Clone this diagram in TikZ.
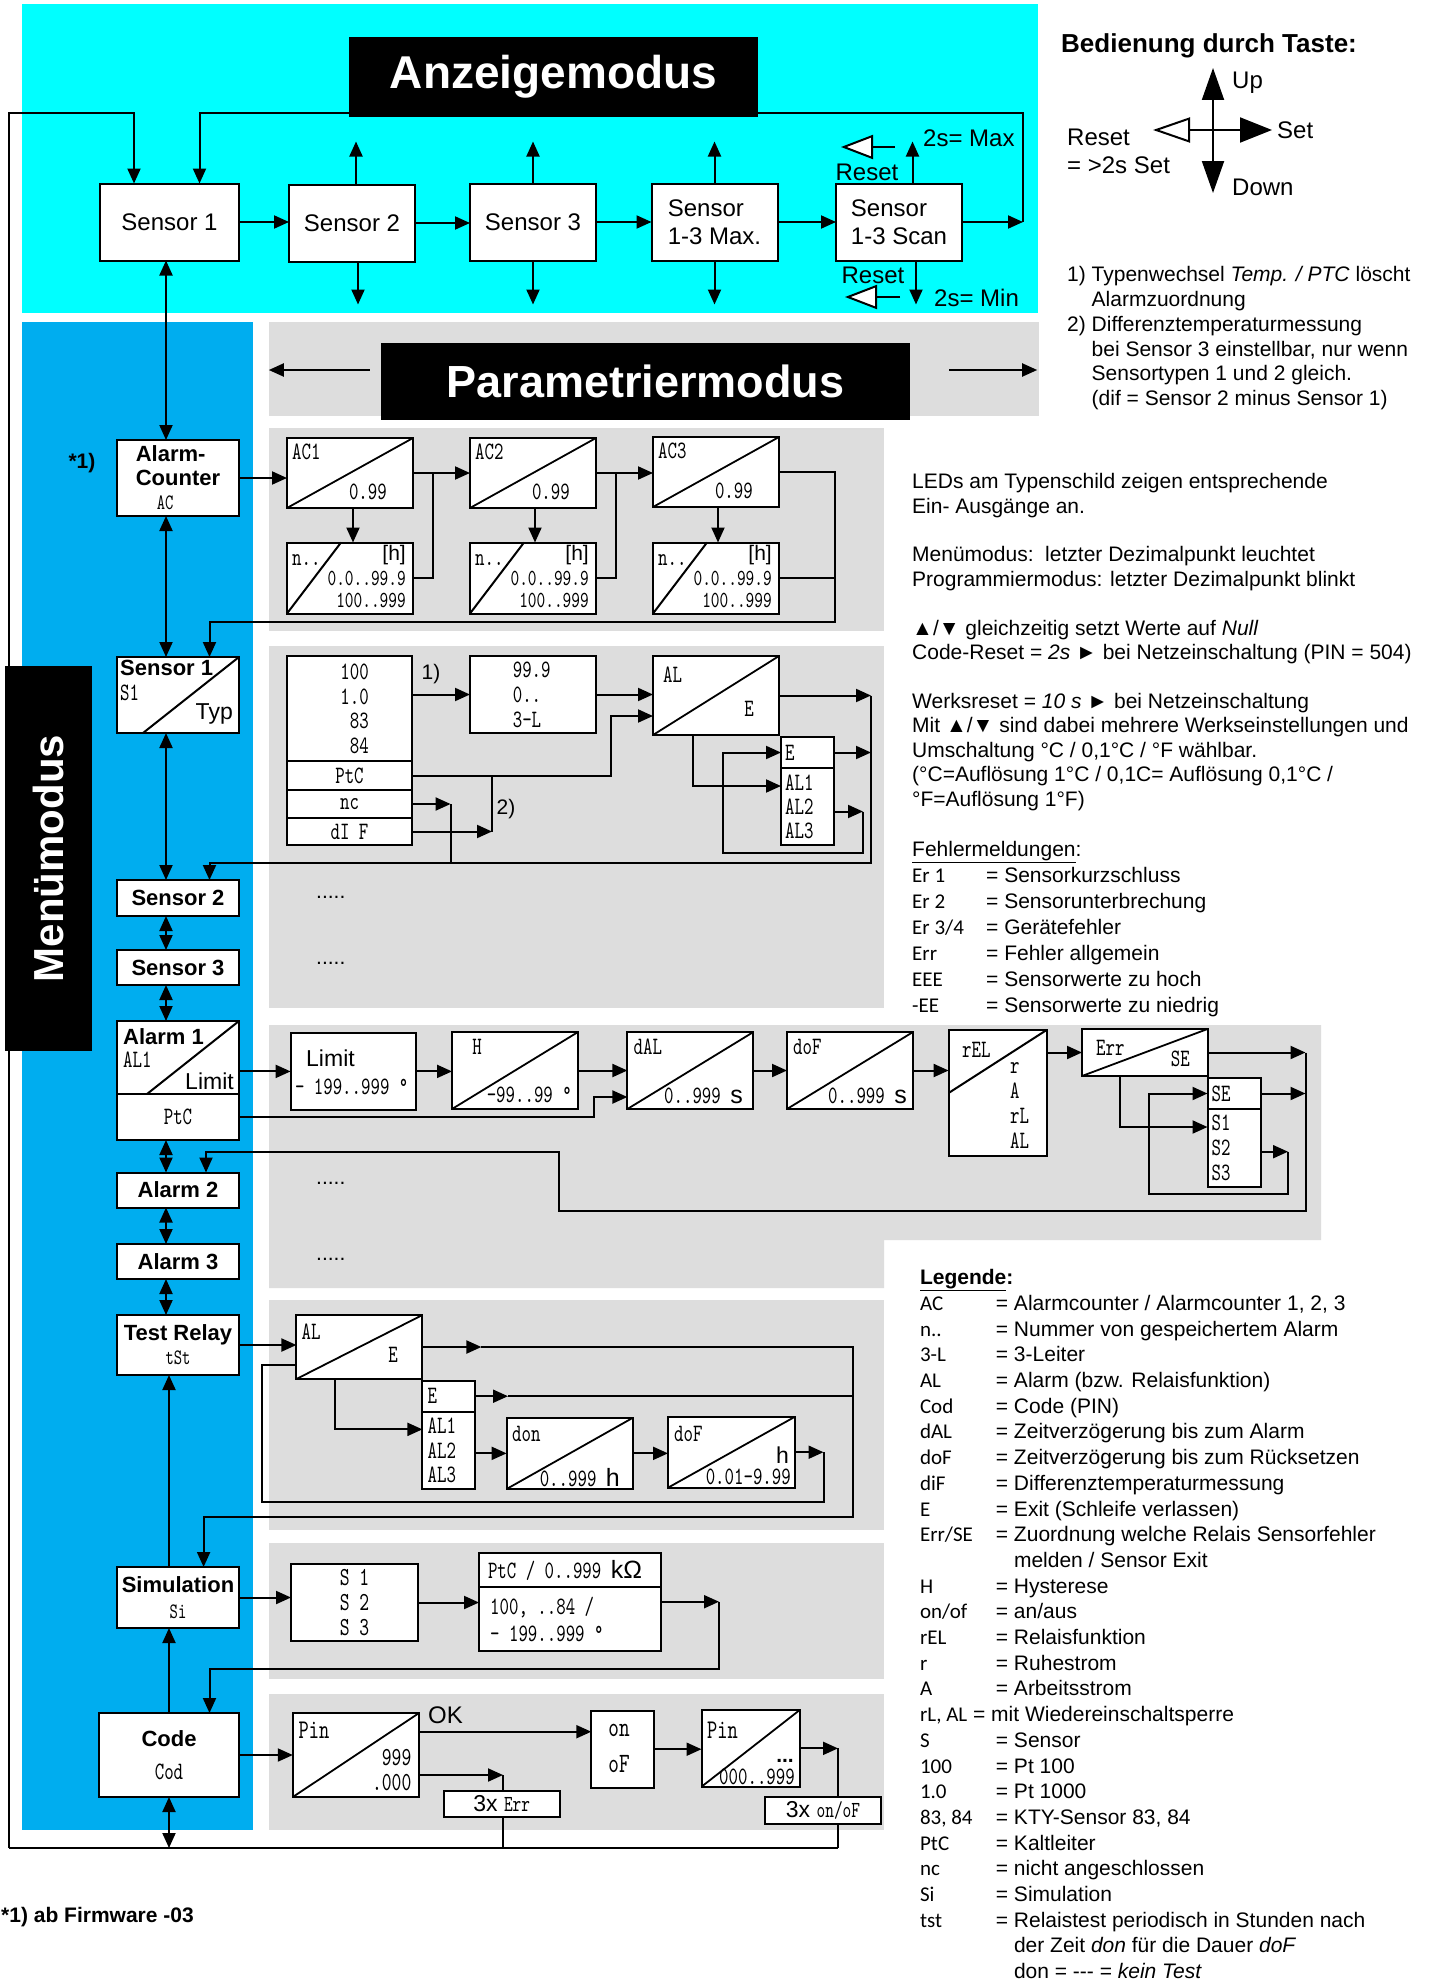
\documentclass[tikz,border=0pt]{standalone}
\usepackage{fontspec}
\setmainfont{Liberation Sans}
\newfontfamily\segfont[FakeStretch=0.72]{lmmono10-regular.otf}
\newfontfamily\codefont{Carlito}
\usetikzlibrary{arrows.meta,positioning,calc}
\definecolor{anzcyan}{RGB}{0,255,255}
\definecolor{menublue}{RGB}{0,173,239}
\definecolor{panelgray}{RGB}{221,221,221}

\begin{document}
\begin{tikzpicture}[x=1pt,y=-1pt,>={Triangle[length=15pt,width=13pt]}]
\tikzset{
  ln/.style={line width=2pt},
  arr/.style={ln,->},
  darr/.style={ln,<->},
  box/.style={draw,line width=2pt,fill=white,inner sep=0pt,outer sep=0pt},
  dg/.style={path picture={\draw[line width=1.8pt] (path picture bounding box.south west) -- (path picture bounding box.north east);}},
  txt/.style={inner sep=0pt,font=\fontsize{21}{25}\selectfont},
  atxt/.style={inner sep=0pt,font=\fontsize{24}{28}\selectfont},
  ltxt/.style={inner sep=0pt,font=\fontsize{23}{23}\selectfont},
  seg/.style={inner sep=0pt,font=\segfont\fontsize{25}{25}\selectfont},
  segl/.style={inner sep=0pt,font=\segfont\fontsize{27}{25}\selectfont},
  mtxt/.style={inner sep=0pt,font=\bfseries\fontsize{22}{24}\selectfont},
}
\tikzstyle{abox}=[box,minimum width=126pt,minimum height=77pt,font=\fontsize{24}{28}\selectfont]
\tikzstyle{mbox}=[box,minimum width=122pt,font=\bfseries\fontsize{22}{24}\selectfont]
\tikzstyle{dbox}=[box,dg,minimum width=126pt,minimum height=70pt]
\tikzstyle{nbox}=[box,minimum width=126pt,minimum height=71pt]
\tikzstyle{cbox}=[box,minimum width=125pt,font=\segfont\fontsize{25}{25}\selectfont]

\fill[white] (0,0) rectangle (1436,1983);
\useasboundingbox (0,0) rectangle (1436,1983);

% backgrounds
\fill[anzcyan] (22,4) rectangle (1038,313);
\fill[menublue] (22,322) rectangle (253,1830);
\fill[panelgray] (269,322) rectangle (1039,416);
\fill[panelgray] (269,428) rectangle (884,631);
\fill[panelgray] (269,646) rectangle (884,1008);
\fill[panelgray] (269,1025) -- (1321,1025) -- (1321,1240) -- (884,1240) -- (884,1288) -- (269,1288) -- cycle;
\fill[panelgray] (269,1300) rectangle (884,1530);
\fill[panelgray] (269,1543) rectangle (884,1679);
\fill[panelgray] (269,1694) rectangle (884,1830);

% Anzeigemodus
\node[abox,minimum width=139pt] (s1a) at (169.5,222) {Sensor 1};
\node[abox] (s2a) at (352,223) {Sensor 2};
\node[abox] (s3a) at (533,222) {Sensor 3};
\node[abox,align=left] (sma) at (714.5,222) {Sensor\\1-3 Max.};
\node[abox,align=left] (ssa) at (899,222) {Sensor\\1-3 Scan};
\draw[arr] (s1a.east) -- (s1a.east -| s2a.west);
\draw[arr] (s2a.east) -- (s2a.east -| s3a.west);
\draw[arr] (s3a.east) -- (sma.west);
\draw[arr] (sma.east) -- (ssa.west);
\draw[arr] ([xshift=4pt]s2a.north) -- ++(0,-43);
\draw[arr] ([xshift=6pt]s2a.south) -- ++(0,43);
\draw[arr] (s3a.north) -- ++(0,-42);
\draw[arr] (s3a.south) -- ++(0,44);
\draw[arr] (sma.north) -- ++(0,-42);
\draw[arr] (sma.south) -- ++(0,44);
\draw[arr] ([xshift=13.5pt]ssa.north) -- ++(0,-42);
\draw[arr] ([xshift=17pt]ssa.south) -- ++(0,44);
\coordinate (rstT) at (895,147);
\coordinate (rstB) at (900,297);
\draw[ln,-{Triangle[length=32pt,width=24pt,fill=white]}] (rstT) -- ++(-54,0);
\draw[ln,-{Triangle[length=32pt,width=24pt,fill=white]}] (rstB) -- ++(-55,0);
\node[atxt,anchor=west] at (923,138) {2s= Max};
\node[atxt] at (867,172) {Reset};
\node[atxt] at (873,275) {Reset};
\node[atxt,anchor=west] at (934,298) {2s= Min};
\coordinate (loopR) at (1023,113);
\coordinate (topL) at (9,113);
\coordinate (botL) at (9,1848);
\draw[arr] (ssa.east) -- (ssa.east -| loopR);
\draw[arr] (ssa.east -| loopR) -- (loopR) -| ([xshift=30pt]s1a.north);
\draw[arr] (botL) -- (topL) -| ([xshift=-35.5pt]s1a.north);
\node[fill=black,text=white,minimum width=409pt,minimum height=80pt,inner sep=0pt,font=\bfseries\fontsize{46}{46}\selectfont] (anz) at (553.5,77) {Anzeigemodus};

% Bedienung
\node[anchor=base west,inner sep=0pt,font=\bfseries\fontsize{26}{30}\selectfont] (bed) at (1061,53) {Bedienung durch Taste:};
\coordinate (kc) at (1213,130);
\draw[ln,-{Triangle[length=32pt,width=22pt]}] (kc) -- ++(0,-62);
\draw[ln,-{Triangle[length=32pt,width=22pt]}] (kc) -- ++(0,63);
\draw[ln,-{Triangle[length=32pt,width=25pt]}] (kc) -- ++(59,0);
\draw[ln,-{Triangle[length=37pt,width=25pt,fill=white]}] (kc) -- ++(-60,0);
\node[atxt,anchor=west] at (1232,83) {Up};
\node[atxt,anchor=west] at (1277,130) {Set};
\node[atxt,anchor=west] at (1232,187) {Down};
\node[atxt,anchor=west] at (1067,137) {Reset};
\node[atxt,anchor=west] at (1067,165) {= >2s Set};
\node[txt,anchor=north west,align=left,font=\fontsize{21}{24.7}\selectfont] at (1067,266.5) {1) Typenwechsel \textit{Temp. / PTC} löscht\\\phantom{1)}\ Alarmzuordnung\\2) Differenztemperaturmessung\\\phantom{2)}\ bei Sensor 3 einstellbar, nur wenn\\\phantom{2)}\ Sensortypen 1 und 2 gleich.\\\phantom{2)}\ (dif = Sensor 2 minus Sensor 1)};

% right notes
\node[txt,anchor=north west,align=left] at (912,472.7) {LEDs am Typenschild zeigen entsprechende\\Ein- Ausgänge an.};
\node[txt,anchor=north west,align=left] at (912,546) {Menümodus:\ \ letzter Dezimalpunkt leuchtet\\Programmiermodus: letzter Dezimalpunkt blinkt};
\node[txt,anchor=north west,align=left,font=\fontsize{21}{24}\selectfont] at (912,620) {▲/▼ gleichzeitig setzt Werte auf \textit{Null}\\Code-Reset = \textit{2s} ► bei Netzeinschaltung (PIN = 504)};
\node[txt,anchor=north west,align=left,font=\fontsize{21}{24.5}\selectfont] at (912,692.8) {Werksreset = \textit{10 s} ► bei Netzeinschaltung\\Mit ▲/▼ sind dabei mehrere Werkseinstellungen und\\Umschaltung °C / 0,1°C / °F wählbar.\\(°C=Auflösung 1°C / 0,1C= Auflösung 0,1°C /\\°F=Auflösung 1°F)};
\node[txt,anchor=north west,font=\fontsize{21}{26}\selectfont] (fehler) at (912,838.3) {\begin{tabular}{@{}p{74pt}@{}l@{}}
\multicolumn{2}{@{}l@{}}{\underline{Fehlermeldungen}:}\\
{\codefont Er 1} & = Sensorkurzschluss\\
{\codefont Er 2} & = Sensorunterbrechung\\
{\codefont Er 3/4} & = Gerätefehler\\
{\codefont Err} & = Fehler allgemein\\
{\codefont EEE} & = Sensorwerte zu hoch\\
{\codefont -EE} & = Sensorwerte zu niedrig
\end{tabular}};

% legend
\node[txt,anchor=north west,font=\fontsize{21}{25.7}\selectfont] (leg) at (919.8,1266.5) {\begin{tabular}{@{}p{75.9pt}@{}l@{}}
\multicolumn{2}{@{}l@{}}{\bfseries\underline{Legende}:}\\
{\codefont AC} & = Alarmcounter / Alarmcounter 1, 2, 3\\
{\codefont n..} & = Nummer von gespeichertem Alarm\\
{\codefont 3-L} & = 3-Leiter\\
{\codefont AL} & = Alarm (bzw. Relaisfunktion)\\
{\codefont Cod} & = Code (PIN)\\
{\codefont dAL} & = Zeitverzögerung bis zum Alarm\\
{\codefont doF} & = Zeitverzögerung bis zum Rücksetzen\\
{\codefont diF} & = Differenztemperaturmessung\\
{\codefont E} & = Exit (Schleife verlassen)\\
{\codefont Err/SE} & = Zuordnung welche Relais Sensorfehler\\
 & \phantom{= }melden / Sensor Exit\\
{\codefont H} & = Hysterese\\
{\codefont on/of} & = an/aus\\
{\codefont rEL} & = Relaisfunktion\\
{\codefont r} & = Ruhestrom\\
{\codefont A} & = Arbeitsstrom\\
\multicolumn{2}{@{}l@{}}{{\codefont rL, AL} = mit Wiedereinschaltsperre}\\
{\codefont S} & = Sensor\\
{\codefont 100} & = Pt 100\\
{\codefont 1.0} & = Pt 1000\\
{\codefont 83, 84} & = KTY-Sensor 83, 84\\
{\codefont PtC} & = Kaltleiter\\
{\codefont nc} & = nicht angeschlossen\\
{\codefont Si} & = Simulation\\
{\codefont tst} & = Relaistest periodisch in Stunden nach\\
 & \phantom{= }der Zeit \textit{don} für die Dauer \textit{doF}\\
 & \phantom{= }don = -{}-{}- = \textit{kein Test}
\end{tabular}};

% Parametriermodus
\node[fill=black,text=white,minimum width=529pt,minimum height=77pt,inner sep=0pt,font=\bfseries\fontsize{45}{45}\selectfont] (par) at (645.5,381.5) {Parametriermodus};
\draw[arr] ([xshift=-11pt,yshift=11.5pt]par.west) -- ++(-101,0);
\draw[arr] ([xshift=39pt,yshift=11.5pt]par.east) -- ++(88,0);

% Menue column
\node[mbox,minimum height=76pt,align=left] (ac) at (178,478) {Alarm-\\Counter\\\hspace*{21pt}{\segfont\mdseries AC}};
\node[inner sep=0pt,font=\bfseries\fontsize{21}{21}\selectfont] at (82,463) {*1)};
\node[mbox,minimum height=76pt] (s1m) at (178,695) {};
\draw[ln] ([xshift=26pt]s1m.south west) -- (s1m.north east);
\node[mtxt,anchor=west] at (120,667.5) {Sensor 1};
\node[seg,anchor=west] at (120,693) {S1};
\node[ltxt,anchor=east] at (233,713.5) {Typ};
\node[mbox,minimum height=36pt] (s2m) at (178,898) {Sensor 2};
\node[mbox,minimum height=35pt] (s3m) at (178,967.5) {Sensor 3};
\node[mbox,minimum height=73pt] (al1m) at (178,1057.5) {};
\node[box,minimum width=122pt,minimum height=46pt,font=\segfont\fontsize{25}{25}\selectfont] (ptcm) at (178,1117) {PtC};
\draw[ln] ([xshift=30pt]al1m.south west) -- (al1m.north east);
\node[mtxt,anchor=west] at (123,1037) {Alarm 1};
\node[seg,anchor=west] at (123,1060) {AL1};
\node[ltxt,anchor=east] at (234,1081) {Limit};
\node[mbox,minimum height=35pt] (al2m) at (178,1190) {Alarm 2};
\node[mbox,minimum height=35pt] (al3m) at (178,1261.5) {Alarm 3};
\node[mbox,minimum height=60pt,align=center] (trm) at (178,1345) {Test Relay\\{\segfont\mdseries tSt}};
\node[mbox,minimum height=61pt,align=center] (simm) at (178,1597.5) {Simulation\\[2pt]{\segfont\mdseries Si}};
\node[mbox,minimum width=140pt,minimum height=84pt,align=center] (codem) at (169,1755) {Code\\[9pt]{\segfont\mdseries\fontsize{25}{25}\selectfont Cod}};
\draw[darr] ([xshift=-3.5pt]s1a.south) -- ([xshift=-12pt]ac.north);
\draw[darr] ([xshift=-12pt]ac.south) -- ([xshift=-12pt]s1m.north);
\draw[darr] ([xshift=-12pt]s1m.south) -- ([xshift=-12pt]s2m.north);
\draw[darr] ([xshift=-12pt]s2m.south) -- ([xshift=-12pt]s3m.north);
\draw[darr] ([xshift=-12pt]s3m.south) -- ([xshift=-12pt]al1m.north);
\draw[darr] ([xshift=-12pt]ptcm.south) -- ([xshift=-12pt]al2m.north);
\draw[darr] ([xshift=-12pt]al2m.south) -- ([xshift=-12pt]al3m.north);
\draw[darr] ([xshift=-12pt]al3m.south) -- ([xshift=-12pt]trm.north);
\draw[arr] ([xshift=-9pt]simm.north) -- ([xshift=-9pt]trm.south);
\draw[arr] (codem.north) -- ([xshift=-9pt]simm.south);
\draw[darr] (codem.south) -- (codem.south |- botL);

% Alarm-Counter
\node[dbox] (ac1) at (350,473) {};
\node[dbox] (ac2) at (533,473) {};
\node[dbox] (ac3) at (716,472) {};
\node[seg,anchor=west] at ([shift={(5pt,-14pt)}]ac1.north west) {AC1};
\node[seg,anchor=east] at ([shift={(-26pt,16pt)}]ac1.south east) {0.99};
\node[seg,anchor=west] at ([shift={(5pt,-14pt)}]ac2.north west) {AC2};
\node[seg,anchor=east] at ([shift={(-26pt,16pt)}]ac2.south east) {0.99};
\node[seg,anchor=west] at ([shift={(5pt,-14pt)}]ac3.north west) {AC3};
\node[seg,anchor=east] at ([shift={(-26pt,16pt)}]ac3.south east) {0.99};
\node[nbox] (n1) at (350,578) {};
\node[nbox] (n2) at (533,578) {};
\node[nbox] (n3) at (716,578) {};
\draw[ln] (n1.south west) -- ([xshift=54pt]n1.north west);
\draw[ln] (n2.south west) -- ([xshift=54pt]n2.north west);
\draw[ln] (n3.south west) -- ([xshift=54pt]n3.north west);
\node[seg,anchor=west] at ([shift={(5pt,-18pt)}]n1.north west) {n..};
\node[txt,anchor=east] at ([shift={(-7pt,-13pt)}]n1.north east) {[h]};
\node[seg,anchor=east,align=right,font=\segfont\fontsize{23}{22}\selectfont] at ([shift={(-7pt,-46.5pt)}]n1.north east) {0.0..99.9\\100..999};
\node[seg,anchor=west] at ([shift={(5pt,-18pt)}]n2.north west) {n..};
\node[txt,anchor=east] at ([shift={(-7pt,-13pt)}]n2.north east) {[h]};
\node[seg,anchor=east,align=right,font=\segfont\fontsize{23}{22}\selectfont] at ([shift={(-7pt,-46.5pt)}]n2.north east) {0.0..99.9\\100..999};
\node[seg,anchor=west] at ([shift={(5pt,-18pt)}]n3.north west) {n..};
\node[txt,anchor=east] at ([shift={(-7pt,-13pt)}]n3.north east) {[h]};
\node[seg,anchor=east,align=right,font=\segfont\fontsize{23}{22}\selectfont] at ([shift={(-7pt,-46.5pt)}]n3.north east) {0.0..99.9\\100..999};
\draw[arr] (ac.east) -- (ac.east -| ac1.west);
\draw[arr] (ac1.east) -- (ac2.west);
\draw[arr] (ac2.east) -- (ac2.east -| ac3.west);
\draw[arr] ([xshift=3pt]ac1.south) -- ([xshift=3pt]n1.north);
\draw[arr] ([xshift=2pt]ac2.south) -- ([xshift=2pt]n2.north);
\draw[arr] ([xshift=2pt]ac3.south) -- ([xshift=2pt]n3.north);
\draw[ln] (n1.east) -| ([xshift=20pt]ac1.east);
\draw[ln] (n2.east) -| ([xshift=20pt]ac2.east);
\coordinate (acR) at (835,622);
\draw[ln] (n3.east) -- (n3.east -| acR);
\draw[arr] (ac3.east) -| (acR) -| ([xshift=31.5pt]s1m.north);

% Sensor 1 Typ
\node[box,minimum width=125pt,minimum height=105pt] (typ) at (349.5,708.5) {};
\node[seg,anchor=east,align=right,font=\segfont\fontsize{25}{24.7}\selectfont] at (369,709) {100\\1.0\\83\\84};
\node[cbox,minimum height=29pt] (ptc) at (349.5,775.5) {PtC};
\node[cbox,minimum height=28pt] (nc) at (349.5,804) {nc};
\node[cbox,minimum height=27pt] (dif) at (349.5,831.5) {dI F};
\node[box,minimum width=126pt,minimum height=77pt] (b999) at (533,694.5) {};
\node[seg,anchor=west,align=left] at (512.6,695) {99.9\\0..\\3-L};
\node[dbox,minimum height=79pt] (alE) at (716,695.5) {};
\node[seg,anchor=west] at (663,675) {AL};
\node[seg] at (749,709) {E};
\node[box,minimum width=53pt,minimum height=31pt] (eC) at (807.5,752.5) {};
\node[box,minimum width=53pt,minimum height=77pt] (alC) at (807.5,806.5) {};
\node[seg,anchor=west] at ([xshift=4pt]eC.west) {E};
\node[seg,anchor=west,align=left,font=\segfont\fontsize{25}{24}\selectfont] at ([xshift=4pt]alC.west) {AL1\\AL2\\AL3};
\node[txt] at (431,674) {1)};
\node[txt] at (506,809) {2)};
\draw[arr] (b999.west -| typ.east) -- (b999.west);
\draw[arr] (b999.east) -- (b999.east -| alE.west);
\coordinate (ptcx) at (611,716);
\draw[arr] (ptc.east) -| (ptcx) -- (ptcx -| alE.west);
\draw[arr] (dif.east) -- ++(80,0);
\draw[ln] ([xshift=80pt]dif.east) -- ([xshift=80pt]dif.east |- ptc.east);
\coordinate (snR) at (871,863);
\draw[arr] (nc.east) -- ++(38.6,0);
\draw[ln] ([xshift=38.6pt]nc.east) -- ([xshift=38.6pt]nc.east |- snR);
\draw[arr] (alE.east) -- (alE.east -| snR);
\draw[arr] (alE.east -| snR) -- (snR) -| ([xshift=31.5pt]s2m.north);
\draw[arr] (eC.east) -- (eC.east -| snR);
\draw[arr] ([xshift=-23pt]alE.south) |- ([yshift=20.5pt]alC.west);
\coordinate (snL) at (723,853);
\draw[arr] ([yshift=-5pt]alC.east) -- ++(29,0);
\draw[arr] ([yshift=-5pt,xshift=29pt]alC.east) |- (snL) |- (eC.west);
\node[txt,anchor=west] at (316,897) {.....};
\node[txt,anchor=west] at (316,963) {.....};

% Alarm 1
\node[box,minimum width=125.4pt,minimum height=77.3pt] (lim) at (353.3,1071.4) {};
\node[ltxt,anchor=west] at (306,1058) {Limit};
\node[seg,anchor=west] at (294.8,1087) {- 199..999 °};
\node[dbox,minimum height=77pt] (hb) at (515,1070.5) {};
\node[seg] at (477,1047) {H};
\node[seg,anchor=east] at (572,1095) {-99..99 °};
\node[dbox,minimum height=77pt] (dal) at (690.4,1070.5) {};
\node[seg,anchor=west] at (633.5,1047) {dAL};
\node[seg,anchor=east] at (743,1096) {0..999 {\rmfamily s}};
\node[dbox,minimum height=77pt] (dof) at (850,1070.5) {};
\node[seg,anchor=west] at (793,1047) {doF};
\node[seg,anchor=east] at (907,1096) {0..999 {\rmfamily s}};
\node[box,minimum width=98pt,minimum height=126pt] (rel) at (997.6,1093) {};
\draw[ln] (rel.west) -- (rel.north east);
\node[seg,anchor=west] at (962,1050) {rEL};
\node[seg,anchor=west,align=left] at (1010,1105.5) {r\\A\\rL\\AL};
\node[dbox,minimum width=125.5pt,minimum height=47pt] (err) at (1144.75,1052.5) {};
\node[seg,anchor=west] at (1096,1048) {Err};
\node[seg,anchor=east] at (1190,1059) {SE};
\node[box,minimum width=53.5pt,minimum height=31pt] (seC) at (1234.25,1093.5) {};
\node[box,minimum width=53.5pt,minimum height=77.7pt] (sC) at (1234.25,1148) {};
\node[seg,anchor=west] at ([xshift=4pt]seC.west) {SE};
\node[seg,anchor=west,align=left] at ([xshift=4pt]sC.west) {S1\\S2\\S3};
\draw[arr] (al1m.east |- lim.west) -- (lim.west);
\draw[arr] (lim.east) -- (lim.east -| hb.west);
\draw[arr] (hb.east) -- (dal.west);
\draw[arr] (dal.east) -- (dof.west);
\draw[arr] (dof.east) -- (dof.east -| rel.west);
\draw[arr] (err.west -| rel.east) -- (err.west);
\coordinate (ptcA) at (594,1097);
\draw[arr] (ptcm.east) -| (ptcA) -- (ptcA -| dal.west);
\coordinate (alR) at (1305.5,1211);
\coordinate (alS) at (559,1152);
\draw[arr] (err.east) -- (err.east -| alR);
\draw[arr] (err.east -| alR) -- (alR) -| (alS) -| ([xshift=28pt]al2m.north);
\draw[arr] (seC.east) -- (seC.east -| alR);
\draw[arr] ([xshift=-25pt]err.south) |- ([yshift=21pt]sC.west);
\coordinate (alL) at (1149.4,1194);
\draw[arr] ([yshift=-3.7pt]sC.east) -- ++(27,0);
\draw[arr] ([yshift=-3.7pt,xshift=27pt]sC.east) |- (alL) |- (seC.west);
\node[txt,anchor=west] at (316,1183) {.....};
\node[txt,anchor=west] at (316,1259) {.....};

% Test Relay
\node[dbox,minimum height=64pt] (tal) at (359.4,1347) {};
\node[seg,anchor=west] at (301.5,1332) {AL};
\node[seg] at (393,1355) {E};
\node[box,minimum width=52.6pt,minimum height=31pt] (te) at (448.7,1396.2) {};
\node[box,minimum width=52.6pt,minimum height=77.3pt] (talc) at (448.7,1450.35) {};
\node[seg,anchor=west] at ([xshift=5pt]te.west) {E};
\node[seg,anchor=west,align=left,font=\segfont\fontsize{25}{24.5}\selectfont] at ([xshift=5pt]talc.west) {AL1\\AL2\\AL3};
\node[dbox,minimum width=126.4pt,minimum height=71.3pt] (don) at (569.8,1453.35) {};
\node[seg,anchor=west] at (512,1434) {don};
\node[seg,anchor=east] at (620,1478) {0..999 {\rmfamily h}};
\node[dbox,minimum width=127pt,minimum height=71pt] (tdof) at (731.5,1452.2) {};
\node[seg,anchor=west] at (674,1434) {doF};
\node[ltxt,anchor=east] at (789,1455) {h};
\node[seg,anchor=east] at (791,1477) {0.01-9.99};
\draw[arr] (trm.east) -- (trm.east -| tal.west);
\coordinate (trR) at (852.6,1517);
\draw[arr] (tal.east) -- ++(59,0);
\draw[arr] ([xshift=59pt]tal.east) -| (trR) -| ([xshift=25.6pt]simm.north);
\draw[arr] (te.east) -- ++(33,0);
\draw[ln] ([xshift=33pt]te.east) -- (te.east -| trR);
\draw[arr] ([xshift=-24.7pt]tal.south) |- ([yshift=21pt]talc.west);
\draw[arr] (talc.east |- don.west) -- (don.west);
\draw[arr] (don.east) -- (don.east -| tdof.west);
\coordinate (trL) at (262,1502);
\draw[arr] (tdof.east) -- ++(28.5,0);
\draw[ln] ([xshift=28.5pt]tdof.east) |- (trL) |- ([yshift=-18pt]tal.west);

% Simulation
\node[box,minimum width=127pt,minimum height=77pt,align=center,font=\segfont\fontsize{26}{25}\selectfont] (sbx) at (354.5,1602.5) {S 1\\S 2\\S 3};
\node[box,minimum width=182pt,minimum height=98pt] (ptcs) at (570,1601.7) {};
\draw[ln] ([yshift=-34pt]ptcs.north west) -- ([yshift=-34pt]ptcs.north east);
\node[seg,anchor=west] at (487.8,1570) {PtC / 0..999 {\rmfamily kΩ}};
\node[seg,anchor=west,align=left,font=\segfont\fontsize{25}{27}\selectfont] at (490,1619.5) {100, ..84 /\\- 199..999 °};
\draw[arr] (simm.east) -- (simm.east -| sbx.west);
\draw[arr] (sbx.east) -- (sbx.east -| ptcs.west);
\coordinate (smR) at (719,1669);
\draw[arr] (ptcs.east) -- (ptcs.east -| smR);
\draw[arr] (ptcs.east -| smR) -- (smR) -| ([xshift=40.5pt]codem.north);

% Code
\node[dbox,minimum width=126.2pt,minimum height=84pt] (pin1) at (355.9,1755) {};
\node[segl,anchor=west] at (298.5,1730) {Pin};
\node[segl,anchor=east,align=right,font=\segfont\fontsize{26}{24.5}\selectfont] at (411.6,1770) {999\\.000};
\node[box,minimum width=63.1pt,minimum height=77pt] (onof) at (622.85,1749.2) {};
\node[segl,align=center,font=\segfont\fontsize{28}{36}\selectfont] at (619,1748) {on\\oF};
\node[dbox,minimum width=98.2pt,minimum height=76.7pt] (pin2) at (750.6,1748.35) {};
\node[segl,anchor=west] at (707,1730) {Pin};
\node[inner sep=0pt,font=\bfseries\fontsize{21}{21}\selectfont,anchor=base east] at (794,1762) {...};
\node[seg,anchor=east] at (795,1777) {000..999};
\node[box,minimum width=116pt,minimum height=26.6pt,font=\fontsize{23}{23}\selectfont] (err3) at (501.7,1804) {3x {\segfont Err}};
\node[box,minimum width=116pt,minimum height=27.6pt,font=\fontsize{23}{23}\selectfont] (oo3) at (823,1810.5) {3x {\segfont on/oF}};
\node[inner sep=0pt,font=\fontsize{24}{24}\selectfont,anchor=west] at (428,1715) {OK};
\draw[arr] (codem.east) -- (codem.east -| pin1.west);
\draw[arr] ([yshift=23.3pt]pin1.east) -- ([yshift=23.3pt]pin1.east -| onof.west);
\coordinate (pinx) at (503,1775);
\draw[arr] ([yshift=-20pt]pin1.east) -- (pinx);
\draw[ln] (pinx) -- (pinx |- err3.north);
\draw[arr] (onof.east) -- (onof.east -| pin2.west);
\coordinate (pin2x) at (838,1748.35);
\draw[arr] (pin2.east) -- (pin2x);
\draw[ln] (pin2x) -- (pin2x |- oo3.north);
\draw[ln] (pinx |- err3.south) -- (pinx |- botL);
\draw[ln] (pin2x |- oo3.south) -- (pin2x |- botL);
\draw[ln] (botL) -- (pin2x |- botL);

% Menuemodus label
\node[fill=black,text=white,rotate=90,minimum width=385pt,minimum height=87pt,inner sep=0pt,font=\bfseries\fontsize{42}{42}\selectfont] (menu) at (48.5,858.5) {Menümodus};
\node[anchor=west,inner sep=0pt,font=\bfseries\fontsize{21}{21}\selectfont] at (1,1917) {*1) ab Firmware -03};
\end{tikzpicture}
\end{document}
